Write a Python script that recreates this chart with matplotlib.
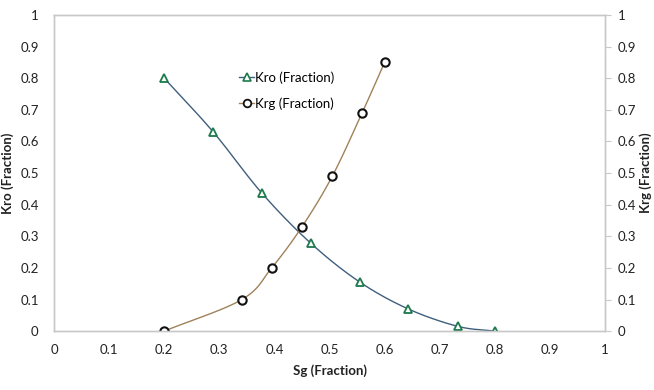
import matplotlib
matplotlib.use("Agg")
import matplotlib.pyplot as plt
import numpy as np

plt.rcParams['font.family'] = ['Lato', 'DejaVu Sans']

# Relative permeability data
sg_kro = [0.2, 0.289, 0.377, 0.466, 0.555, 0.643, 0.733, 0.8]
kro = [0.80, 0.63, 0.437, 0.278, 0.155, 0.07, 0.015, 0.0]

sg_krg = [0.2, 0.341, 0.395, 0.45, 0.505, 0.559, 0.6]
krg = [0.0, 0.10, 0.20, 0.33, 0.49, 0.69, 0.85]

ticks = [0, 0.1, 0.2, 0.3, 0.4, 0.5, 0.6, 0.7, 0.8, 0.9, 1]
tick_labels = ['0', '0.1', '0.2', '0.3', '0.4', '0.5', '0.6', '0.7', '0.8', '0.9', '1']


def smooth(x, y, n=20):
    # Catmull-Rom curve through the points, like Excel's smoothed line
    x = np.asarray(x, float)
    y = np.asarray(y, float)
    px = np.concatenate([[2 * x[0] - x[1]], x, [2 * x[-1] - x[-2]]])
    py = np.concatenate([[2 * y[0] - y[1]], y, [2 * y[-1] - y[-2]]])
    t = np.linspace(0, 1, n)
    xs, ys = [], []
    for i in range(1, len(px) - 2):
        for p, out in ((px, xs), (py, ys)):
            p0, p1, p2, p3 = p[i - 1], p[i], p[i + 1], p[i + 2]
            out.extend(0.5 * (2 * p1 + (-p0 + p2) * t
                              + (2 * p0 - 5 * p1 + 4 * p2 - p3) * t ** 2
                              + (-p0 + 3 * p1 - 3 * p2 + p3) * t ** 3))
    return np.array(xs), np.array(ys)


fig = plt.figure(figsize=(6.54, 3.9), dpi=100)
ax = fig.add_axes([0.0826, 0.151, 0.8425, 0.8105])
ax2 = ax.twinx()

line_kro = '#3f5f7f'
line_krg = '#a0825a'
green = '#1d7a4c'

xs, ys = smooth(sg_kro, kro)
ax.plot(xs, ys, color=line_kro, lw=1.0, zorder=2)
xs, ys = smooth(sg_krg, krg)
ax.plot(xs, ys, color=line_krg, lw=1.0, zorder=2)

ax.plot(sg_kro, kro, ls='none', marker='^', ms=6, mfc='white', mec=green, mew=1.3, zorder=3)
ax.plot(sg_krg, krg, ls='none', marker='o', ms=6, mfc='white', mec='#111111', mew=1.5, zorder=3)

# legend handles
h1, = ax.plot([], [], color=line_kro, lw=1.0, marker='^', ms=5.5, mfc='white', mec=green, mew=1.2)
h2, = ax.plot([], [], color=line_krg, lw=1.0, marker='o', ms=5.5, mfc='white', mec='#111111', mew=1.3)
ax.legend([h1, h2], ['Kro (Fraction)', 'Krg (Fraction)'], loc='upper left',
          bbox_to_anchor=(0.315, 0.86), frameon=False, handlelength=1.1,
          handletextpad=0.1, labelspacing=1.05, fontsize=9.5)

for a in (ax, ax2):
    a.set_xlim(0, 1)
    a.set_ylim(0, 1)
    for s in a.spines.values():
        s.set_color('#c8c8c8')
        s.set_linewidth(1.0)

ax.set_xticks(ticks)
ax.set_xticklabels(tick_labels)
ax.set_yticks(ticks)
ax.set_yticklabels(tick_labels)
ax2.set_yticks(ticks)
ax2.set_yticklabels(tick_labels)

ax.tick_params(axis='both', length=0, pad=9, labelsize=9.5, colors='#222222')
ax.tick_params(axis='y', pad=11)
ax2.tick_params(axis='y', length=4, width=0.8, color='#c8c8c8', pad=5,
                labelsize=9.5, labelcolor='#222222')

ax.set_xlabel('Sg (Fraction)', fontsize=9.5, fontweight='bold', color='#222222', labelpad=6)
ax.set_ylabel('Kro (Fraction)', fontsize=9.5, fontweight='bold', color='#222222')
ax2.set_ylabel('Krg (Fraction)', fontsize=9.5, fontweight='bold', color='#222222')
ax.yaxis.set_label_coords(-0.072, 0.5)
ax2.yaxis.set_label_coords(1.062, 0.5)

fig.savefig('out.png', dpi=100)
